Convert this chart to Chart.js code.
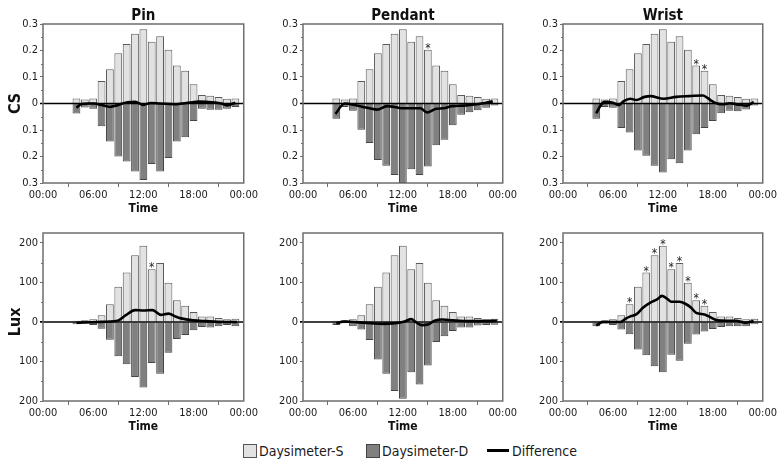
<!DOCTYPE html>
<html><head><meta charset="utf-8">
<script src="https://cdn.jsdelivr.net/npm/chart.js@4.4.0/dist/chart.umd.min.js"></script>
<style>
body{margin:0;background:#fff;width:778px;height:462px;overflow:hidden;position:relative;font-family:'DejaVu Sans Condensed','DejaVu Sans',sans-serif;color:#1a1a1a;}
canvas{position:absolute;}
.lg{position:absolute;font-size:14px;line-height:16px;white-space:nowrap;}
.sw{position:absolute;width:12px;height:12px;}
</style></head><body>

<div class="sw" style="left:243px;top:444px;background:#e2e2e2;border:1px solid #555;"></div>
<div class="lg" style="left:259px;top:443px;">Daysimeter-S</div>
<div class="sw" style="left:366px;top:444px;background:#808080;border:1px solid #444;"></div>
<div class="lg" style="left:382px;top:443px;">Daysimeter-D</div>
<div style="position:absolute;left:487px;top:449px;width:22px;height:3px;background:#000;"></div>
<div class="lg" style="left:512px;top:443px;">Difference</div>

<script>
// ---- data ----
const hours = [4,5,6,7,8,9,10,11,12,13,14,15,16,17,18,19,20,21,22,23];
const xTicks = [0,6,12,18,24];
const xTickLabels = ['00:00','06:00','12:00','18:00','00:00'];
const panelTitles = ['Pin','Pendant','Wrist'];
const rowTitles = ['CS','Lux'];
const csTicks = [-0.3,-0.2,-0.1,0,0.1,0.2,0.3];
const csMinor = [-0.25,-0.15,-0.05,0.05,0.15,0.25];
const luxTicks = [-200,-100,0,100,200];
const luxMinor = [-150,-50,50,150];

const csS        = [0.019,0.015,0.019,0.085,0.129,0.190,0.225,0.263,0.280,0.233,0.254,0.203,0.143,0.124,0.073,0.032,0.029,0.025,0.018,0.019];
const csPinD     = [0.038,0.015,0.020,0.086,0.143,0.200,0.219,0.257,0.289,0.228,0.257,0.206,0.143,0.127,0.066,0.020,0.024,0.024,0.020,0.013];
const csPendantD = [0.058,0.013,0.027,0.099,0.149,0.213,0.235,0.270,0.300,0.248,0.270,0.238,0.158,0.137,0.082,0.042,0.033,0.025,0.016,0.008];
const csWristD   = [0.058,0.013,0.016,0.092,0.109,0.177,0.197,0.235,0.260,0.210,0.225,0.177,0.116,0.092,0.066,0.037,0.027,0.029,0.023,0.008];

const luxS        = [3,4,7,17,45,89,125,169,193,133,149,99,55,41,25,14,14,10,7,8];
const luxPinD     = [6,4,8,17,45,87,107,139,166,104,131,78,43,33,21,13,14,11,8,11];
const luxPendantD = [8,3,11,19,46,95,131,175,194,127,158,110,51,36,23,14,14,9,8,7];
const luxWristD   = [11,4,8,19,31,70,84,112,127,83,98,55,32,24,18,13,11,11,11,6];

const csPinDiffX = [4.0,4.6,5.5,6.1,7.0,8.0,8.7,10.1,11.0,12.0,12.9,14.0,15.6,16.7,17.9,18.6,20.2,21.3,22.0,23.0];
const csPinDiffY = [-0.016,-0.002,0.0,0.0,-0.006,-0.013,-0.008,0.005,0.006,-0.005,0.002,0.0,-0.003,0.0,0.005,0.007,0.005,0.0,-0.007,0.003];
const csPendantDiffX = [3.9,5.0,6.1,7.2,8.0,8.9,10.1,11.0,11.8,12.9,14.1,14.9,16.0,16.9,17.9,19.4,20.9,22.0,22.8];
const csPendantDiffY = [-0.039,0.0,-0.005,-0.013,-0.018,-0.023,-0.010,-0.013,-0.018,-0.018,-0.018,-0.034,-0.020,-0.018,-0.010,-0.008,-0.003,0.003,0.008];
const csWristDiffX = [4.0,4.5,5.0,6.0,6.7,7.3,8.1,8.8,9.8,10.5,12.1,13.6,15.1,16.8,17.4,17.9,18.5,19.3,20.0,21.2,22.1,22.9];
const csWristDiffY = [-0.037,-0.008,0.006,0.003,-0.006,0.009,0.018,0.013,0.025,0.028,0.018,0.025,0.028,0.030,0.020,0.009,0.0,-0.003,0.001,-0.005,-0.008,0.006];

const luxPinDiffX = [4.0,6.5,8.9,9.9,11.0,12.0,13.1,14.1,15.0,15.8,16.5,17.9,19.4,21.7,23.2];
const luxPinDiffY = [-2,0,3,17,30,29,30,18,21,14,9,4,2,0,0];
const luxPendantDiffX = [4.0,5.0,6.6,8.1,9.6,11.1,12.3,13.0,13.6,14.3,15.1,15.8,16.8,18.0,19.9,21.8,23.3];
const luxPendantDiffY = [-3,1,-1,-3,-5,-3,2,7,-1,-8,-6,3,6,4,2,2,3];
const luxWristDiffX = [4.0,4.8,6.0,6.9,7.5,8.1,8.8,9.6,10.5,11.3,11.9,12.6,13.0,14.0,14.7,15.4,16.0,17.0,17.8,18.5,19.7,20.8,21.9,22.9];
const luxWristDiffY = [-9,0,0,0,8,14,19,36,49,57,66,57,51,51,46,36,23,19,11,4,3,3,-2,2];

const csPinStars = [];
const csPendantStars = [15];
const csWristStars = [16,17];
const luxPinStars = [13];
const luxPendantStars = [];
const luxWristStars = [8,10,11,12,13,14,15,16,17];

// ---- layout ----
const colLeft = [43,303,563];
const colW = [211,210,210];
const rowTop = [24,233];
const rowH = [159,168];
const FONT = "'DejaVu Sans Condensed','DejaVu Sans',sans-serif";

const panels = [
  {r:0,c:0,S:csS,D:csPinD,dx:csPinDiffX,dy:csPinDiffY,stars:csPinStars},
  {r:0,c:1,S:csS,D:csPendantD,dx:csPendantDiffX,dy:csPendantDiffY,stars:csPendantStars},
  {r:0,c:2,S:csS,D:csWristD,dx:csWristDiffX,dy:csWristDiffY,stars:csWristStars},
  {r:1,c:0,S:luxS,D:luxPinD,dx:luxPinDiffX,dy:luxPinDiffY,stars:luxPinStars},
  {r:1,c:1,S:luxS,D:luxPendantD,dx:luxPendantDiffX,dy:luxPendantDiffY,stars:luxPendantStars},
  {r:1,c:2,S:luxS,D:luxWristD,dx:luxWristDiffX,dy:luxWristDiffY,stars:luxWristStars},
];

const decor = {
  id:'decor',
  afterDatasetsDraw(chart, args, o){
    const ctx = chart.ctx, a = chart.chartArea, ys = chart.scales.y;
    ctx.save();
    // zero line
    const y0 = ys.getPixelForValue(0);
    ctx.strokeStyle = '#000'; ctx.lineWidth = 1.6;
    ctx.beginPath(); ctx.moveTo(a.left-3, y0); ctx.lineTo(a.right, y0); ctx.stroke();
    // box
    ctx.strokeStyle = '#6e6e6e'; ctx.lineWidth = 1.5;
    ctx.strokeRect(a.left, a.top, a.right-a.left, a.bottom-a.top);
    // minor ticks
    ctx.lineWidth = 1;
    ctx.beginPath();
    o.minor.forEach(v => { const p = Math.round(ys.getPixelForValue(v))+0.5; ctx.moveTo(a.left-2, p); ctx.lineTo(a.left, p); });
    ctx.stroke();
    // asterisks
    const meta = chart.getDatasetMeta(1);
    ctx.fillStyle = '#222'; ctx.font = '12px ' + FONT; ctx.textAlign = 'center'; ctx.textBaseline = 'alphabetic';
    o.stars.forEach(h => { const el = meta.data[hours.indexOf(h)]; ctx.fillText('*', el.x, el.y + 2); });
    // texts
    ctx.fillStyle = '#111';
    const cx = (a.left + a.right) / 2;
    if (o.title) { ctx.font = 'bold 15px ' + FONT; ctx.textBaseline = 'middle'; ctx.fillText(o.title, cx, a.top - 8); }
    ctx.font = 'bold 12px ' + FONT; ctx.textBaseline = 'middle'; ctx.fillText('Time', cx, a.bottom + 26);
    if (o.ytitle) {
      ctx.translate(16, y0); ctx.rotate(-Math.PI/2);
      ctx.font = 'bold 16px ' + FONT; ctx.fillText(o.ytitle, 0, 0);
    }
    ctx.restore();
  }
};

panels.forEach(p => {
  const isCS = p.r === 0;
  const cv = document.createElement('canvas');
  const W = colW[p.c] + 43 + 6, H = rowH[p.r] + 24 + 36;
  cv.width = W; cv.height = H;
  cv.style.left = (colLeft[p.c] - 43) + 'px';
  cv.style.top = (rowTop[p.r] - 24) + 'px';
  cv.style.width = W + 'px'; cv.style.height = H + 'px';
  document.body.appendChild(cv);
  const yt = isCS ? csTicks : luxTicks;
  new Chart(cv, {
    type:'bar',
    data:{datasets:[
      {type:'line', order:0, data:p.dx.map((x,i)=>({x, y:p.dy[i]})), borderColor:'#000', borderWidth:2.6,
       pointRadius:0, tension:0.35, cubicInterpolationMode:'monotone', fill:false},
      {order:1, grouped:false, data:hours.map((h,i)=>({x:h, y:p.S[i]})), backgroundColor:'#e2e2e2',
       borderColor:'#5a5a5a', borderWidth:1, barPercentage:0.93, categoryPercentage:1},
      {order:2, grouped:false, data:hours.map((h,i)=>({x:h, y:-p.D[i]})), backgroundColor:'#808080',
       borderColor:'#454545', borderWidth:1, barPercentage:0.93, categoryPercentage:1},
    ]},
    options:{
      responsive:false, animation:false, devicePixelRatio:1,
      layout:{padding:{left:0, top:24, right:6, bottom:0}},
      plugins:{legend:{display:false}, tooltip:{enabled:false},
        decor:{title: p.r===0 ? panelTitles[p.c] : null, ytitle: p.c===0 ? rowTitles[p.r] : null,
               minor: isCS ? csMinor : luxMinor, stars: p.stars}},
      scales:{
        x:{type:'linear', min:0, max:24, offset:false,
           afterBuildTicks: s => { s.ticks = xTicks.map(v=>({value:v})); },
           afterFit: s => { s.height = 36; },
           ticks:{callback:(v)=> xTickLabels[xTicks.indexOf(v)], font:{family:FONT, size:11}, color:'#1a1a1a', padding:2, maxRotation:0, autoSkip:false},
           grid:{drawOnChartArea:false, drawTicks:true, tickLength:4, tickColor:'#6e6e6e'},
           border:{display:false}},
        y:{min: isCS ? -0.3 : -200, max: isCS ? 0.3 : 225,
           afterBuildTicks: s => { s.ticks = yt.map(v=>({value:v})); },
           afterFit: s => { s.width = 43; },
           ticks:{callback:(v)=> isCS ? (v===0 ? '0' : Math.abs(v).toFixed(1)) : String(Math.abs(v)),
                  font:{family:FONT, size:11}, color:'#1a1a1a', padding:2, autoSkip:false},
           grid:{drawOnChartArea:false, drawTicks:true, tickLength:3,
                 tickColor: c => (c.tick && c.tick.value===0) ? '#000' : '#6e6e6e'},
           border:{display:false}}
      }
    },
    plugins:[decor]
  });
});
</script>
</body></html>
